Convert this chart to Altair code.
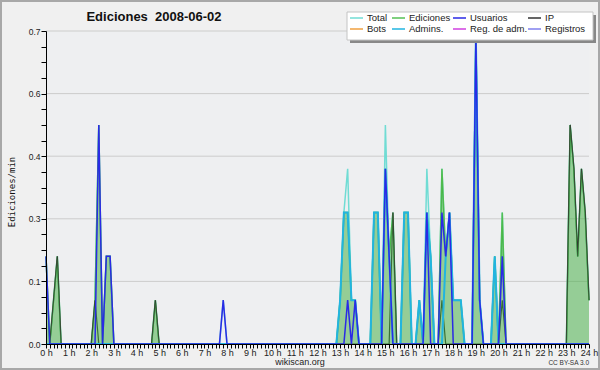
import altair as alt
import pandas as pd

# ---------------- data (10-minute bins, index 0 = 0h00, 144 = 24h00) ----------------
N_POINTS = 145

series_names = ["Total", "Ediciones", "Usuarios", "IP", "Bots", "Admins.", "Reg. de adm.", "Registros"]
series_colors = ["#70dcd4", "#55c055", "#2a2ae6", "#333333", "#f0a040", "#22b4e0", "#d040e0", "#8080ee"]

total_bins = [0, 2, 3, 13, 14, 16, 17, 29, 47, 78, 79, 80, 81, 82, 87, 88, 90, 91, 92, 95, 96, 99, 101, 102,
              105, 106, 107, 108, 109, 110, 114, 115, 119, 121, 139, 140, 141, 142, 143, 144]
total_vals = [0.2, 0.1, 0.2, 0.1, 0.5, 0.2, 0.2, 0.1, 0.1, 0.1, 0.3, 0.4, 0.1, 0.1, 0.3, 0.3, 0.5, 0.2, 0.3, 0.3, 0.3, 0.1, 0.4, 0.2,
              0.4, 0.2, 0.3, 0.1, 0.1, 0.1, 0.7, 0.1, 0.2, 0.3, 0.5, 0.4, 0.2, 0.4, 0.3, 0.1]

ediciones_bins = [0, 2, 3, 13, 14, 16, 17, 29, 78, 79, 80, 81, 82, 87, 88, 90, 91, 92, 95, 96, 99, 101, 102,
                  105, 106, 107, 108, 109, 110, 114, 115, 119, 121, 139, 140, 141, 142, 143, 144]
ediciones_vals = [0.2, 0.1, 0.2, 0.1, 0.5, 0.2, 0.2, 0.1, 0.1, 0.3, 0.3, 0.1, 0.1, 0.3, 0.3, 0.4, 0.2, 0.3, 0.3, 0.3, 0.1, 0.3, 0.2,
                  0.4, 0.2, 0.3, 0.1, 0.1, 0.1, 0.7, 0.1, 0.2, 0.3, 0.5, 0.4, 0.2, 0.4, 0.3, 0.1]

usuarios_bins = [0, 14, 16, 17, 47, 80, 82, 90, 91, 101, 105, 106, 107, 114, 115, 121]
usuarios_vals = [0.2, 0.5, 0.2, 0.2, 0.1, 0.1, 0.1, 0.4, 0.2, 0.3, 0.3, 0.2, 0.3, 0.7, 0.1, 0.2]

ip_bins = [2, 3, 13, 29, 92, 105, 121, 139, 140, 141, 142, 143, 144]
ip_vals = [0.1, 0.2, 0.1, 0.1, 0.3, 0.1, 0.1, 0.5, 0.4, 0.2, 0.4, 0.3, 0.1]

admins_bins = [78, 79, 80, 81, 82, 87, 88, 90, 91, 95, 96, 99, 101, 102, 106, 107, 108, 109, 110, 114, 115, 119]
admins_vals = [0.1, 0.3, 0.3, 0.1, 0.1, 0.3, 0.3, 0.4, 0.2, 0.3, 0.3, 0.1, 0.3, 0.2, 0.2, 0.3, 0.1, 0.1, 0.1, 0.7, 0.1, 0.2]

x_tick_hours = [i / 6 for i in range(N_POINTS)]
y_tick_vals = [k / 28 for k in range(21)]
grid_vals = [k / 7 for k in range(1, 6)]

# ---------------- layout constants (pixels, relative to the plot's top-left corner) ----------------
LEG_COL_X = [304, 346, 407, 482]   # start of each legend column's line sample
LEG_ROW_Y = [-13, -2]              # centre of each legend row
LEG_SAMPLE = 13
LEG_GAP = 4


def frame(name, bins, vals):
    v = [0.0] * N_POINTS
    for b, val in zip(bins, vals):
        v[b] = val
    return pd.DataFrame({"t": [i / 6 for i in range(N_POINTS)], "v": v, "series": name})


df_total = frame("Total", total_bins, total_vals)
df_edic = frame("Ediciones", ediciones_bins, ediciones_vals)
df_usr = frame("Usuarios", usuarios_bins, usuarios_vals)
df_ip = frame("IP", ip_bins, ip_vals)
df_adm = frame("Admins.", admins_bins, admins_vals)
df_grid = pd.DataFrame({"v": grid_vals})

leg_df = pd.DataFrame({
    "name": series_names,
    "color": series_colors,
    "sx": [LEG_COL_X[i % 4] for i in range(len(series_names))],
    "sy": [LEG_ROW_Y[i // 4] for i in range(len(series_names))],
})
leg_df["sx2"] = leg_df["sx"] + LEG_SAMPLE
leg_df["tx"] = leg_df["sx"] + LEG_SAMPLE + LEG_GAP

# ---------------- encodings ----------------
xs = alt.Scale(domain=[0, 24], nice=False)
ys = alt.Scale(domain=[0, 5 / 7], nice=False, zero=True)

x_axis = alt.Axis(
    values=x_tick_hours,
    labelExpr="abs(datum.value - round(datum.value)) < 0.001 ? round(datum.value) + ' h' : ''",
    grid=False, domainColor="black", tickColor="black", tickSize=4,
    labelFont="Liberation Sans", labelFontSize=9, labelColor="#222",
    labelPadding=0, labelOverlap=False, labelFlush=False, title=None, zindex=1,
)
y_axis = alt.Axis(
    values=y_tick_vals,
    labelExpr="abs(datum.value*7 - round(datum.value*7)) < 0.001 ? format(datum.value, '.1f') : ''",
    grid=False, domainColor="black", tickColor="black", tickSize=5,
    labelFont="Liberation Sans", labelFontSize=8.5, labelColor="#222",
    labelPadding=1, labelOverlap=False, labelFlush=False, title=None, zindex=1,
)
X = alt.X("t:Q", scale=xs, axis=x_axis)
Y = alt.Y("v:Q", scale=ys, axis=y_axis)
C = alt.Color("series:N", scale=alt.Scale(domain=series_names, range=series_colors), legend=None)


def line(df, width):
    return alt.Chart(df).mark_line(strokeWidth=width, interpolate="linear").encode(x=X, y=Y, color=C)


grid = alt.Chart(df_grid).mark_rule(color="#cccccc", strokeWidth=1).encode(y=Y)
area = alt.Chart(df_edic).mark_area(color="#3cac3c", opacity=0.5, interpolate="linear").encode(x=X, y=Y)

one = pd.DataFrame({"label": ["x"]})
shadow = alt.Chart(one).mark_rect(color="#888888").encode(
    x=alt.value(304), x2=alt.value(550), y=alt.value(-16), y2=alt.value(12))
legbox = alt.Chart(one).mark_rect(fill="white", stroke="#c4c4c4", strokeWidth=1).encode(
    x=alt.value(301), x2=alt.value(547), y=alt.value(-19), y2=alt.value(9))
leg_lines = alt.Chart(leg_df).mark_rule(strokeWidth=1.5).encode(
    x=alt.X("sx:Q", scale=None, axis=None), x2="sx2:Q",
    y=alt.Y("sy:Q", scale=None, axis=None),
    color=alt.Color("color:N", scale=None, legend=None),
)
leg_text = alt.Chart(leg_df).mark_text(
    font="Liberation Sans", fontSize=9.5, color="#222", align="left", baseline="middle"
).encode(x=alt.X("tx:Q", scale=None, axis=None), y=alt.Y("sy:Q", scale=None, axis=None), text="name:N")

border = alt.Chart(one).mark_rect(fill="transparent", stroke="#a8a8a8", strokeWidth=2).encode(
    x=alt.value(-45), x2=alt.value(553), y=alt.value(-30), y2=alt.value(338))

title = alt.Chart(pd.DataFrame({"label": ["Ediciones\u00a0\u00a02008-06-02"]})).mark_text(
    font="Liberation Sans", fontSize=13, fontWeight="bold", color="#111", align="center", baseline="middle"
).encode(x=alt.value(108), y=alt.value(-14), text="label:N")
ytitle = alt.Chart(pd.DataFrame({"label": ["Ediciones/min"]})).mark_text(
    font="DejaVu Sans Mono", fontSize=9, color="#111", align="center", baseline="middle", angle=270
).encode(x=alt.value(-34), y=alt.value(161), text="label:N")
site = alt.Chart(pd.DataFrame({"label": ["wikiscan.org"]})).mark_text(
    font="Liberation Sans", fontSize=9, color="#222", align="center", baseline="middle"
).encode(x=alt.value(254), y=alt.value(331), text="label:N")
lic = alt.Chart(pd.DataFrame({"label": ["CC BY-SA 3.0"]})).mark_text(
    font="Liberation Sans", fontSize=6.5, color="#333", align="right", baseline="middle"
).encode(x=alt.value(543), y=alt.value(331.5), text="label:N")

chart = alt.layer(
    grid,
    line(df_total, 1.5),
    line(df_edic, 1.5),
    line(df_ip, 1.2),
    area,
    line(df_adm, 2),
    line(df_usr, 1.5),
    shadow, legbox, leg_lines, leg_text,
    border,
    title, ytitle, site, lic,
).properties(
    width=543, height=313,
    autosize=alt.AutoSizeParams(type="none"),
    padding={"left": 46, "top": 31, "right": 11, "bottom": 26},
    background="#f0f0f0",
).configure_view(fill="#eeeff1", stroke="transparent")

chart.save("out.html", embed_options={"renderer": "svg", "actions": False})
